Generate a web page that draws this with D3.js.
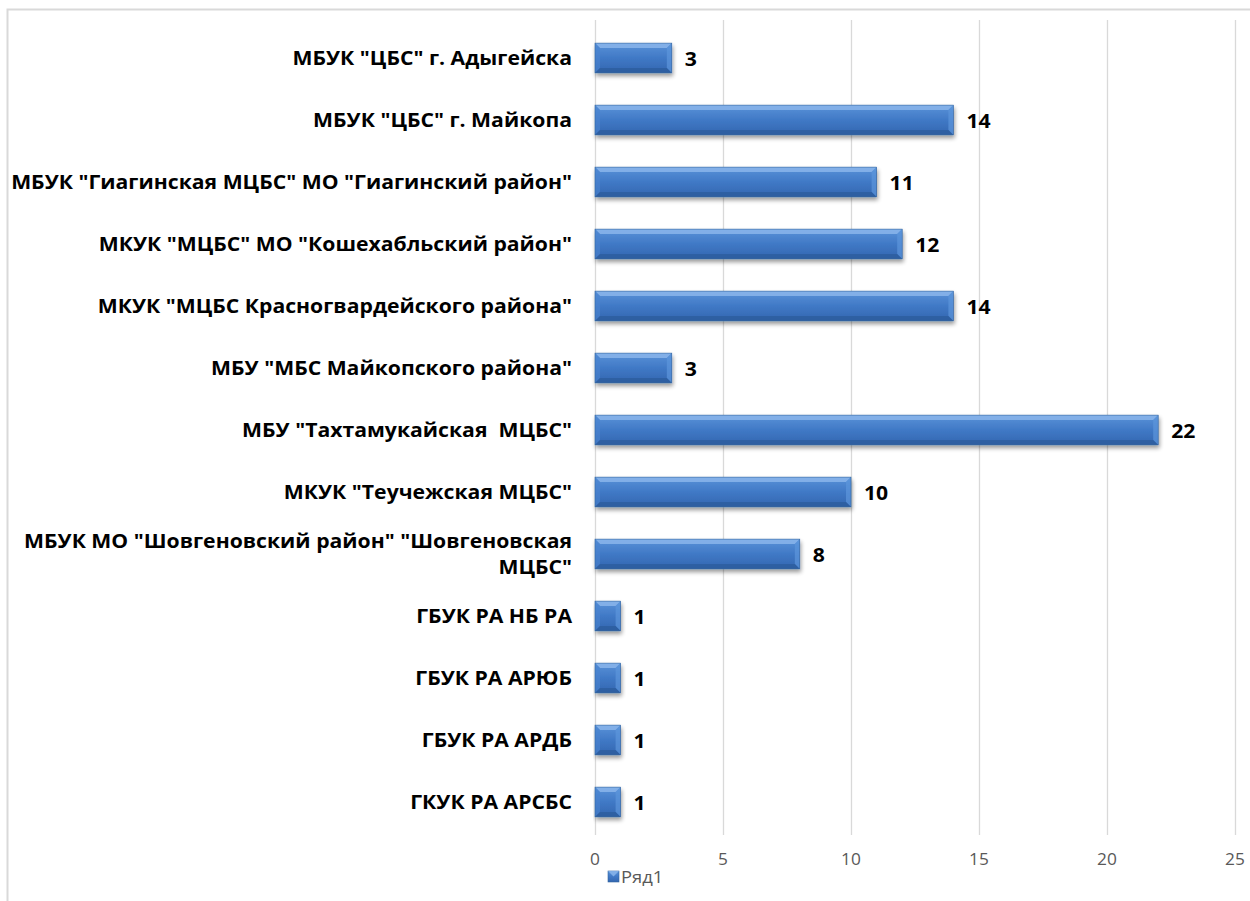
<!DOCTYPE html>
<html><head><meta charset="utf-8">
<script src="https://cdn.jsdelivr.net/npm/d3@7"></script>
<style>html,body{margin:0;padding:0;background:#fff;}</style>
</head><body>
<svg id="c" width="1250" height="901"></svg>
<script>
const categories = [
  'МБУК "ЦБС" г. Адыгейска',
  'МБУК "ЦБС" г. Майкопа',
  'МБУК "Гиагинская МЦБС" МО "Гиагинский район"',
  'МКУК "МЦБС" МО "Кошехабльский район"',
  'МКУК "МЦБС Красногвардейского района"',
  'МБУ "МБС Майкопского района"',
  'МБУ "Тахтамукайская  МЦБС"',
  'МКУК "Теучежская МЦБС"',
  'МБУК МО "Шовгеновский район" "Шовгеновская|МЦБС"',
  'ГБУК РА НБ РА',
  'ГБУК РА АРЮБ',
  'ГБУК РА АРДБ',
  'ГКУК РА АРСБС'
];
const values = [3, 14, 11, 12, 14, 3, 22, 10, 8, 1, 1, 1, 1];
const ticks = [0, 5, 10, 15, 20, 25];
const seriesName = "Ряд1";

const svg = d3.select("#c");
const font = "'Open Sans', sans-serif";
const sx = 1.06;

// outer border
svg.append("rect").attr("x", 7.5).attr("y", 9.5).attr("width", 1300).attr("height", 1000)
  .attr("fill", "none").attr("stroke", "#d9d9d9").attr("stroke-width", 2);

const defs = svg.append("defs");
const g1 = defs.append("linearGradient").attr("id", "barg").attr("x1", 0).attr("y1", 0).attr("x2", 0).attr("y2", 1);
g1.append("stop").attr("offset", "0").attr("stop-color", "#5a92d8");
g1.append("stop").attr("offset", "0.5").attr("stop-color", "#4079c6");
g1.append("stop").attr("offset", "1").attr("stop-color", "#3366b0");
const f = defs.append("filter").attr("id", "sh").attr("x", "-10%").attr("y", "-30%").attr("width", "130%").attr("height", "180%");
f.append("feGaussianBlur").attr("in", "SourceAlpha").attr("stdDeviation", 2.2).attr("result", "b");
f.append("feOffset").attr("in", "b").attr("dx", 1).attr("dy", 3).attr("result", "o");
f.append("feComponentTransfer").attr("in", "o").attr("result", "o2")
  .append("feFuncA").attr("type", "linear").attr("slope", 0.4);
const fm = f.append("feMerge");
fm.append("feMergeNode").attr("in", "o2");
fm.append("feMergeNode").attr("in", "SourceGraphic");

const x = d3.scaleLinear().domain([0, 25]).range([595, 1235]);
const y = d3.scaleBand().domain(categories).range([27, 833]).paddingInner(0.52).paddingOuter(0.26);

// gridlines
svg.append("g").selectAll("line").data(ticks).join("line")
  .attr("x1", d => x(d) + 0.5).attr("x2", d => x(d) + 0.5)
  .attr("y1", 20).attr("y2", 835)
  .attr("stroke", "#d9d9d9").attr("stroke-width", 1.3);

// tick labels
svg.append("g").selectAll("text").data(ticks).join("text")
  .attr("transform", d => `translate(${x(d)},865) scale(1.05,1)`).attr("text-anchor", "middle")
  .attr("font-family", font).attr("font-size", 16.5).attr("fill", "#595959")
  .text(d => d);

// bars
const bars = svg.append("g").selectAll("g").data(categories).join("g")
  .attr("filter", "url(#sh)");
bars.each(function(c, i) {
  const gg = d3.select(this);
  const x0 = x(0), x1 = x(values[i]), y0 = y(c), h = y.bandwidth(), y1 = y0 + h;
  const b = Math.min(5, (x1 - x0) / 3);
  gg.append("rect").attr("x", x0).attr("y", y0).attr("width", x1 - x0).attr("height", h).attr("fill", "url(#barg)");
  gg.append("path").attr("d", `M${x0},${y0}L${x1},${y0}L${x1 - b},${y0 + b}L${x0 + b},${y0 + b}Z`).attr("fill", "#8db8ec").attr("opacity", 0.8);
  gg.append("path").attr("d", `M${x0},${y0}L${x0 + b},${y0 + b}L${x0 + b},${y1 - b}L${x0},${y1}Z`).attr("fill", "#4a84d0").attr("opacity", 0.6);
  gg.append("path").attr("d", `M${x1},${y0}L${x1},${y1}L${x1 - b},${y1 - b}L${x1 - b},${y0 + b}Z`).attr("fill", "#5d95dc").attr("opacity", 0.7);
  gg.append("path").attr("d", `M${x0},${y1}L${x1},${y1}L${x1 - b},${y1 - b}L${x0 + b},${y1 - b}Z`).attr("fill", "#2a5896").attr("opacity", 0.6);
  gg.append("rect").attr("x", x0).attr("y", y0).attr("width", x1 - x0).attr("height", h).attr("fill", "none").attr("stroke", "#34649f").attr("stroke-width", 0.6);
});

// value labels
svg.append("g").selectAll("text").data(categories).join("text")
  .attr("transform", (c, i) => `translate(${x(values[i]) + 13},${y(c) + y.bandwidth() / 2 + 7.5}) scale(${sx},1)`)
  .attr("font-family", font).attr("font-weight", "bold").attr("font-size", 20).attr("fill", "#000")
  .text((c, i) => values[i]);

// category labels
const cl = svg.append("g").selectAll("text").data(categories).join("text")
  .attr("text-anchor", "end")
  .attr("transform", c => `translate(572,${y(c) + y.bandwidth() / 2}) scale(${sx},1)`)
  .attr("font-family", font).attr("font-weight", "bold").attr("font-size", 20).attr("fill", "#000")
  .attr("xml:space", "preserve");
cl.each(function(c) {
  const parts = c.split("|");
  const t = d3.select(this);
  const lh = 26;
  parts.forEach((p, k) => {
    t.append("tspan").attr("x", 0)
      .attr("y", 7 + (k - (parts.length - 1) / 2) * lh)
      .text(p);
  });
});

// legend
const lg = svg.append("g").attr("transform", "translate(608,871)");
lg.append("rect").attr("width", 11).attr("height", 11).attr("fill", "url(#barg)").attr("stroke", "#34649f").attr("stroke-width", 0.6);
lg.append("path").attr("d", "M0,0L11,0L5.5,5.5Z").attr("fill", "#8db8ec").attr("opacity", 0.8);
lg.append("text").attr("transform", "translate(13,12) scale(1.15,1)").attr("font-family", font).attr("font-size", 16).attr("fill", "#595959").text(seriesName);
</script>
</body></html>
